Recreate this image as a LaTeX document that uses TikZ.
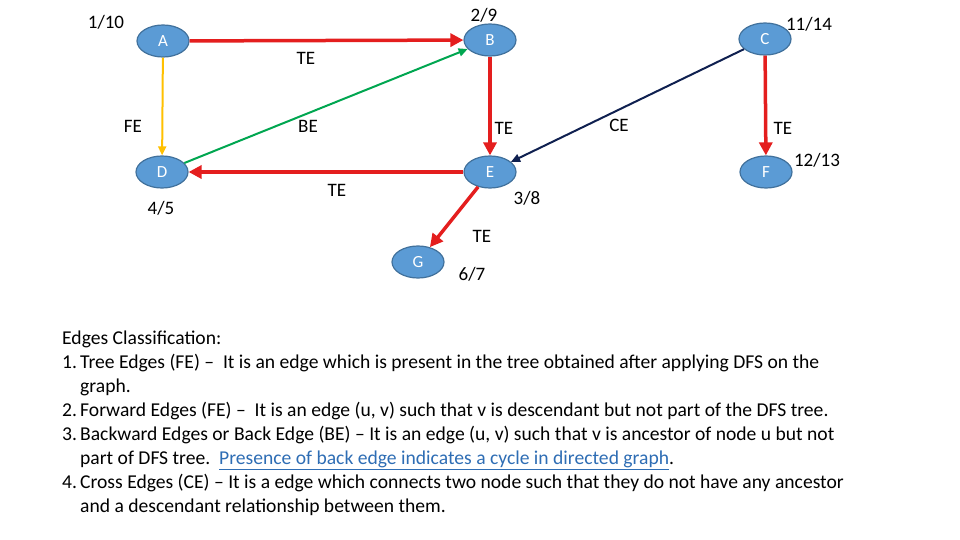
\documentclass[tikz,border=0pt]{standalone}
\usepackage{fontspec}
\setmainfont{Carlito}
\usepackage{xcolor}
\usetikzlibrary{shapes.geometric, arrows.meta, positioning}
\definecolor{nodeblue}{HTML}{5B9BD5}
\definecolor{nodeborder}{HTML}{41719C}
\definecolor{treecolor}{HTML}{E41E1E}
\definecolor{fwdcolor}{HTML}{FFC000}
\definecolor{backcolor}{HTML}{00A650}
\definecolor{crosscolor}{HTML}{0F2050}
\definecolor{linkcolor}{HTML}{2E6DB4}

\tikzset{
  vertex/.style={ellipse, fill=nodeblue, draw=nodeborder, line width=1.2pt,
    minimum width=52pt, minimum height=32pt, inner sep=0pt, text=white,
    font=\fontsize{17}{17}\selectfont},
  lbl/.style={font=\fontsize{19}{19}\selectfont},
  treeedge/.style={treecolor, line width=3.5pt, -{Triangle[length=13pt,width=13pt]}},
  thinedge/.style={line width=2pt, -{Triangle[length=9pt,width=8pt]}}
}

\begin{document}
\begin{tikzpicture}[x=1pt, y=-1pt]
    \useasboundingbox (0,0) rectangle (960,540);

    % Vertices
    \node[vertex] (A) at (163,41) {A};
    \node[vertex] (B) at (490,40) {B};
    \node[vertex] (C) at (765,39) {C};
    \node[vertex] (D) at (162,172) {D};
    \node[vertex] (E) at (490,172) {E};
    \node[vertex] (F) at (766,172) {F};
    \node[vertex] (G) at (418,262) {G};

    % Discovery / finish times
    \node[lbl] (tA) at (106,22) {1/10};
    \node[lbl] (tB) at (484,15) {2/9};
    \node[lbl] (tC) at (809,24) {11/14};
    \node[lbl] (tD) at (161,208) {4/5};
    \node[lbl] (tE) at (527,198) {3/8};
    \node[lbl] (tF) at (817,160) {12/13};
    \node[lbl] (tG) at (472,274) {6/7};

    % Edges
    \draw[treeedge] (A) -- (B);
    \draw[treeedge] (B) -- (E);
    \draw[treeedge] (E) -- (D);
    \draw[treeedge] (E) -- (G);
    \draw[treeedge] (C) -- (F);
    \draw[thinedge, fwdcolor] (A) -- (D);
    \draw[thinedge, backcolor] (D) -- (B);
    \draw[thinedge, crosscolor] (C) -- (E);

    % Edge labels
    \node[lbl] (eAB) at (306,58) {TE};
    \node[lbl] (eAD) at (133,126) {FE};
    \node[lbl] (eDB) at (308,126) {BE};
    \node[lbl] (eBE) at (504,128) {TE};
    \node[lbl] (eCE) at (619,125) {CE};
    \node[lbl] (eCF) at (783,128) {TE};
    \node[lbl] (eED) at (337,190) {TE};
    \node[lbl] (eEG) at (482,236) {TE};

    % Classification text
    \node[anchor=north west, align=left, inner sep=0pt,
      font=\fontsize{19.6}{24}\selectfont] (notes) at (62,331) {%
      Edges Classification:\\
      \makebox[18pt][l]{1.}Tree Edges (FE) --\ \ It is an edge which is present in the tree obtained after applying DFS on the\\
      \hspace*{18pt}graph.\\
      \makebox[18pt][l]{2.}Forward Edges (FE) --\ \ It is an edge (u, v) such that v is descendant but not part of the DFS tree.\\
      \makebox[18pt][l]{3.}Backward Edges or Back Edge (BE) -- It is an edge (u, v) such that v is ancestor of node u but not\\
      \hspace*{18pt}part of DFS tree.\ \ {\color{linkcolor}\underline{Presence of back edge indicates a cycle in directed graph}}.\\
      \makebox[18pt][l]{4.}Cross Edges (CE) -- It is a edge which connects two node such that they do not have any ancestor\\
      \hspace*{18pt}and a descendant relationship between them.};

\end{tikzpicture}
\end{document}
